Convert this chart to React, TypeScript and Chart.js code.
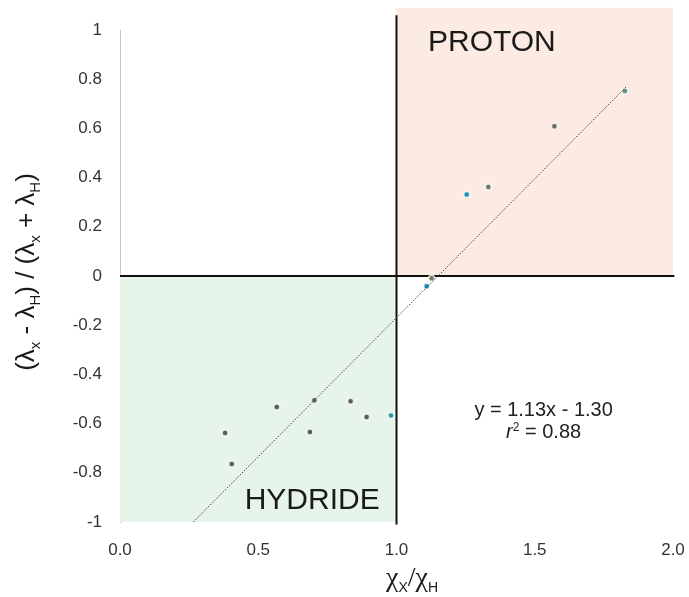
import React, { useEffect, useRef } from "react";
import { Chart, registerables } from "chart.js";

Chart.register(...registerables);

// ---- data ----
const pointX = [0.38, 0.404, 0.567, 0.703, 0.687, 0.834, 0.892, 0.98, 1.109, 1.127, 1.254, 1.332, 1.571, 1.826];
const pointY = [-0.638, -0.764, -0.533, -0.505, -0.634, -0.509, -0.573, -0.567, -0.042, -0.009, 0.331, 0.362, 0.609, 0.752];
const pointColors = ["#5c5c5c", "#5c5c5c", "#5c5c5c", "#5c5c5c", "#5c5c5c", "#5c5c5c", "#5c5c5c", "#2a9d9a", "#1f8fb0", "#7a7a5c", "#1f8fb0", "#6b7b6b", "#6a6a6a", "#5f8f7a"];
const trendX = [0.265, 1.83];
const trendY = [-1.0, 0.768];
const xTickLabels = ["0.0", "0.5", "1.0", "1.5", "2.0"];
const yTickLabels = ["-1", "-0.8", "-0.6", "-0.4", "-0.2", "0", "0.2", "0.4", "0.6", "0.8", "1"];
const protonLabel = "PROTON";
const hydrideLabel = "HYDRIDE";
const eqLine1 = "y = 1.13x - 1.30";
const eqLine2Value = " = 0.88";

const SANS = "'Liberation Sans', Arial, sans-serif";
const SERIF = "'Liberation Serif', 'Times New Roman', serif";

type Seg = { t: string; sub?: boolean; serif?: boolean };

function drawSegs(ctx: CanvasRenderingContext2D, segs: Seg[], cx: number, cy: number, main: number, subSize: number, mainFamily: string) {
  const fontOf = (s: Seg) => (s.sub ? `${subSize}px ${SANS}` : `${main}px ${s.serif ? SERIF : mainFamily}`);
  let total = 0;
  const widths = segs.map((s) => {
    ctx.font = fontOf(s);
    const w = ctx.measureText(s.t).width;
    total += w;
    return w;
  });
  let x = cx - total / 2;
  ctx.textBaseline = "alphabetic";
  ctx.textAlign = "left";
  segs.forEach((s, i) => {
    ctx.font = fontOf(s);
    const base = cy + main * 0.35 + (s.sub ? main * 0.22 : 0);
    ctx.fillText(s.t, x, base);
    x += widths[i];
  });
}

const decorPlugin = {
  id: "decor",
  beforeDatasetsDraw(chart: any) {
    const { ctx, scales } = chart;
    const xs = scales.x;
    const ys = scales.y;
    ctx.save();
    // quadrant backgrounds
    ctx.fillStyle = "#fcebe2";
    const px0 = xs.getPixelForValue(1.0);
    const px1 = xs.getPixelForValue(2.0);
    const pyTop = ys.getPixelForValue(1.09);
    const py0 = ys.getPixelForValue(0);
    ctx.fillRect(px0, pyTop, px1 - px0, py0 - pyTop);
    ctx.fillStyle = "#e7f4ea";
    const gx0 = xs.getPixelForValue(0);
    const gyB = ys.getPixelForValue(-1);
    ctx.fillRect(gx0, py0, px0 - gx0, gyB - py0);
    // black axes
    ctx.strokeStyle = "#111";
    ctx.lineWidth = 2;
    ctx.beginPath();
    ctx.moveTo(xs.getPixelForValue(0), py0);
    ctx.lineTo(xs.getPixelForValue(2.005), py0);
    ctx.moveTo(px0, ys.getPixelForValue(1.06));
    ctx.lineTo(px0, ys.getPixelForValue(-1.01));
    ctx.stroke();
    ctx.restore();
  },
  afterDraw(chart: any) {
    const { ctx, scales } = chart;
    const xs = scales.x;
    const ys = scales.y;
    ctx.save();
    ctx.fillStyle = "#1a1a1a";
    ctx.textAlign = "center";
    ctx.textBaseline = "middle";
    ctx.font = `30px ${SANS}`;
    ctx.fillText(protonLabel, xs.getPixelForValue(1.345), ys.getPixelForValue(0.95));
    ctx.fillText(hydrideLabel, xs.getPixelForValue(0.695), ys.getPixelForValue(-0.914));
    // equation
    ctx.fillStyle = "#222";
    ctx.font = `20px ${SANS}`;
    const ex = xs.getPixelForValue(1.532);
    ctx.fillText(eqLine1, ex, ys.getPixelForValue(-0.545));
    // r^2 line
    const y2 = ys.getPixelForValue(-0.635);
    ctx.font = `italic 20px ${SANS}`;
    const rW = ctx.measureText("r").width;
    ctx.font = `12px ${SANS}`;
    const sW = ctx.measureText("2").width;
    ctx.font = `20px ${SANS}`;
    const vW = ctx.measureText(eqLine2Value).width;
    let x = ex - (rW + sW + vW) / 2;
    ctx.textAlign = "left";
    ctx.font = `italic 20px ${SANS}`;
    ctx.fillText("r", x, y2);
    x += rW;
    ctx.font = `12px ${SANS}`;
    ctx.fillText("2", x, y2 - 5);
    x += sW;
    ctx.font = `20px ${SANS}`;
    ctx.fillText(eqLine2Value, x, y2);

    // x axis title
    ctx.fillStyle = "#1a1a1a";
    drawSegs(
      ctx,
      [{ t: "χ", serif: true }, { t: "X", sub: true }, { t: "/", serif: true }, { t: "χ", serif: true }, { t: "H", sub: true }],
      412,
      576,
      28,
      14,
      SERIF
    );
    // y axis title
    ctx.save();
    ctx.translate(25, 272);
    ctx.rotate(-Math.PI / 2);
    drawSegs(
      ctx,
      [
        { t: "(λ" },
        { t: "x", sub: true },
        { t: " - λ" },
        { t: "H", sub: true },
        { t: ") / (λ" },
        { t: "x", sub: true },
        { t: " + λ" },
        { t: "H", sub: true },
        { t: ")" },
      ],
      0,
      0,
      26,
      15,
      SANS
    );
    ctx.restore();
    ctx.restore();
  },
};

export default function App() {
  const ref = useRef<HTMLCanvasElement>(null);
  useEffect(() => {
    if (!ref.current) return;
    const pts = pointX.map((x, i) => ({ x, y: pointY[i] }));
    const trend = trendX.map((x, i) => ({ x, y: trendY[i] }));
    const chart = new Chart(ref.current, {
      type: "scatter",
      data: {
        datasets: [
          {
            type: "line",
            data: trend,
            borderColor: "#444",
            borderWidth: 1,
            borderDash: [1.5, 1.5],
            pointRadius: 0,
            showLine: true,
            fill: false,
          } as any,
          {
            data: pts,
            pointRadius: 3,
            pointBackgroundColor: pointColors,
            pointBorderColor: "rgba(255,255,255,0.75)",
            pointBorderWidth: 1.5,
          },
        ],
      },
      options: {
        responsive: false,
        animation: false,
        plugins: { legend: { display: false }, tooltip: { enabled: false } },
        layout: { padding: { top: 30, right: 16, left: 0, bottom: 0 } },
        scales: {
          x: {
            type: "linear",
            min: 0,
            max: 2,
            grid: { display: false, drawTicks: false },
            border: { display: false },
            ticks: {
              stepSize: 0.5,
              padding: 18,
              color: "#333",
              font: { family: SANS, size: 17 },
              callback: (_v: any, i: number) => xTickLabels[i],
            },
            afterFit: (s: any) => {
              s.height = 75;
              s.paddingLeft = 0;
              s.paddingRight = 0;
            },
          },
          y: {
            type: "linear",
            min: -1,
            max: 1,
            grid: { display: false, drawTicks: false },
            border: { display: true, color: "#c8c8c8", width: 1 },
            ticks: {
              stepSize: 0.2,
              padding: 18,
              color: "#333",
              font: { family: SANS, size: 17 },
              callback: (_v: any, i: number) => yTickLabels[i],
            },
            afterFit: (s: any) => {
              s.width = 120;
              s.paddingTop = 0;
              s.paddingBottom = 0;
            },
          },
        },
      },
      plugins: [decorPlugin],
    });
    return () => chart.destroy();
  }, []);
  return (
    <div style={{ position: "absolute", left: 0, top: 0, width: 689, height: 597, background: "#fff" }}>
      <canvas ref={ref} width={689} height={597} style={{ width: 689, height: 597, display: "block" }} />
    </div>
  );
}
